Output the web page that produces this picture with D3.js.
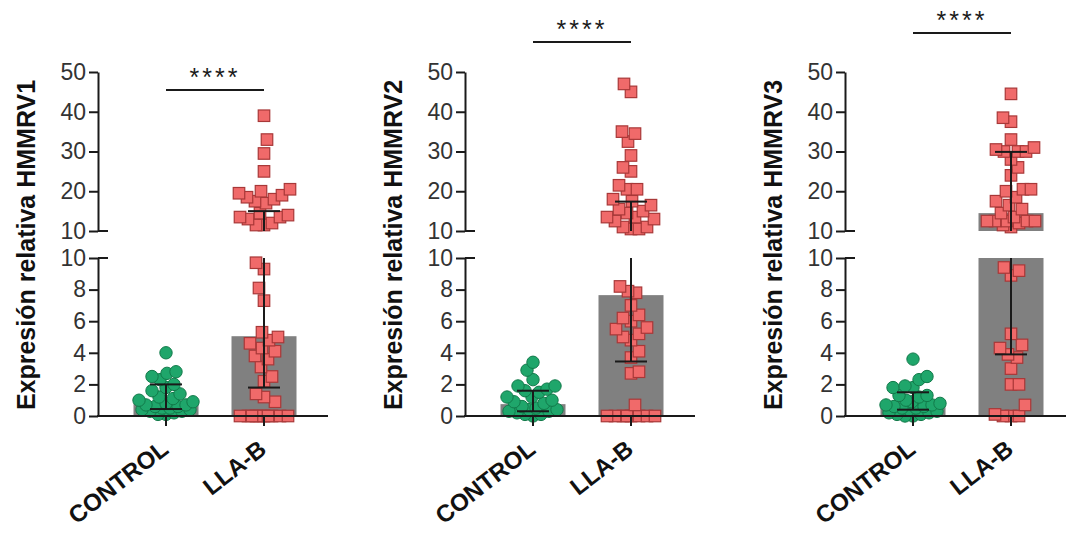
<!DOCTYPE html>
<html>
<head>
<meta charset="utf-8">
<script src="https://cdn.jsdelivr.net/npm/d3@7"></script>
<style>
body { margin: 0; background: #fff; }
svg { display: block; }
</style>
</head>
<body>
<div id="chart"></div>
<script>
// datos
var genes = ["HMMRV1", "HMMRV2", "HMMRV3"];
var categories = ["CONTROL", "LLA-B"];
var lowTicks = [0, 2, 4, 6, 8, 10];
var highTicks = [10, 20, 30, 40, 50];
var signif = ["****", "****", "****"];

var control1 = [4.0, 2.8, 2.7, 2.5, 2.3, 2.0, 1.8, 1.6, 1.4, 1.2, 1.1, 1.0, 0.9, 0.8, 0.7, 0.7, 0.6, 0.6, 0.5, 0.5, 0.4, 0.4, 0.3, 0.3, 0.2, 0.1, 0.1];
var llab1 = [39, 33, 29.5, 25, 20.5, 20, 19.5, 19, 18.5, 18, 17.5, 17, 14.5, 14, 13.5, 13.5, 13, 12, 11.5, 11.5,
             9.7, 9.3, 8.1, 7.3, 5.3, 5.0, 4.8, 4.6, 4.3, 4.1, 3.8, 3.6, 3.1, 2.5, 2.2, 1.4, 1.2, 0.9,
             0, 0, 0, 0, 0, 0, 0, 0, 0, 0];
var control2 = [3.4, 2.9, 2.3, 1.9, 1.9, 1.7, 1.6, 1.5, 1.2, 1.2, 1.0, 0.9, 0.8, 0.6, 0.5, 0.4, 0.4, 0.3, 0.3, 0.2, 0.1, 0.1, 0.0];
var llab2 = [47, 45, 35, 34.5, 32.5, 29, 26, 25, 21.5, 20.5, 20.5, 18, 17.5, 16.5, 15.5, 15, 14.5, 13.5, 13.5, 13, 12.5, 11, 11, 10.5, 10.5,
             8.2, 7.9, 7.8, 7.0, 6.4, 6.2, 6.0, 5.6, 5.5, 5.2, 5.0, 4.8, 4.1, 3.7, 2.8, 2.7, 0.7,
             0, 0, 0, 0, 0, 0, 0, 0];
var control3 = [3.6, 2.5, 2.3, 1.9, 1.8, 1.8, 1.3, 1.3, 1.2, 1.0, 0.9, 0.8, 0.7, 0.7, 0.6, 0.6, 0.5, 0.5, 0.4, 0.3, 0.2, 0.2, 0.1, 0.1, 0.0, 0.0];
var llab3 = [44.5, 38.5, 37.5, 33, 31, 30.5, 30, 30, 30, 28, 26, 24, 20.5, 20.5, 20, 18.5, 17.5, 16.5, 15.5, 14.5, 13.5, 12.5, 12.5, 12.5, 12.5, 12.5, 12, 11.5, 11,
             9.4, 9.2, 8.9, 5.2, 4.5, 4.3, 3.9, 3.7, 3.0, 2.0, 2.0, 0.7, 0.1, 0, 0, 0];

// mediana y rango intercuartil (control, LLA-B)
var medians = [[0.8, 5.05], [0.75, 7.65], [0.7, 14.5]];
var errLow = [[0.44, 1.8], [0.3, 3.45], [0.4, 3.9]];
var errHigh = [[2.0, 15.0], [1.6, 17.4], [1.5, 29.9]];

var groups = [[control1, llab1], [control2, llab2], [control3, llab3]];

// layout
var w = 1066, h = 535;
var yBase = 416, yLowTop = 258, yHighBottom = 231, yHighTop = 72;
var axisX = [98, 465, 845];
var sigY = [90, 42, 33];
var barW = 65, capW = 32;
var fontFam = "'Liberation Sans', Arial, sans-serif";

var svg = d3.select("#chart").append("svg")
    .attr("width", w)
    .attr("height", h);
svg.append("rect").attr("width", w).attr("height", h).attr("fill", "#fff");

// acomoda puntos (tipo beeswarm) dentro de un ancho maximo
function swarm(values, yPos, cx, sx, sy, maxOff) {
    var pts = values.map(function(v) { return {v: v, y: yPos(v)}; });
    pts.sort(function(a, b) { return b.y - a.y; });
    var placed = [];
    pts.forEach(function(pt, i) {
        var best = null, bestD = -1;
        for (var k = 0; k <= maxOff * 2; k++) {
            var sign = (k + i) % 2 ? 1 : -1;
            var px = cx + sign * Math.ceil(k / 2);
            var dmin = Infinity;
            placed.forEach(function(q) {
                var dx = (q.x - px) / sx, dy = (q.y - pt.y) / sy;
                dmin = Math.min(dmin, dx * dx + dy * dy);
            });
            if (dmin >= 1) { best = px; break; }
            if (dmin > bestD) { bestD = dmin; best = px; }
        }
        pt.x = best;
        placed.push(pt);
    });
    return placed;
}

genes.forEach(function(gene, p) {
    var ax = axisX[p];
    var g = svg.append("g");

    var x = d3.scalePoint().domain(categories).range([ax + 68, ax + 166]);
    var yLow = d3.scaleLinear().domain([0, 10]).range([yBase, yLowTop]);
    var yHigh = d3.scaleLinear().domain([10, 50]).range([yHighBottom, yHighTop]);
    var yPos = function(v) { return v > 10 ? yHigh(v) : yLow(v); };

    // barras (mediana), partidas en el corte
    categories.forEach(function(c, ci) {
        var m = medians[p][ci];
        g.append("rect")
            .attr("x", x(c) - barW / 2)
            .attr("y", yLow(Math.min(m, 10)))
            .attr("width", barW)
            .attr("height", yBase - yLow(Math.min(m, 10)))
            .attr("fill", "#808080");
        if (m > 10) {
            g.append("rect")
                .attr("x", x(c) - barW / 2)
                .attr("y", yHigh(m))
                .attr("width", barW)
                .attr("height", yHigh(10) - yHigh(m))
                .attr("fill", "#808080");
        }
    });

    // puntos
    var ctrl = swarm(groups[p][0], yPos, x(categories[0]), 7.5, 13, 27);
    g.selectAll("circle.pt").data(ctrl).enter().append("circle")
        .attr("class", "pt")
        .attr("cx", function(d) { return d.x; })
        .attr("cy", function(d) { return d.y; })
        .attr("r", 6.2)
        .attr("fill", "#1fa66b")
        .attr("stroke", "#127a4a")
        .attr("stroke-width", 1);

    var sq = 11.5;
    var llab = swarm(groups[p][1], yPos, x(categories[1]), 8, 15, 28);
    g.selectAll("rect.pt").data(llab).enter().append("rect")
        .attr("class", "pt")
        .attr("x", function(d) { return d.x - sq / 2; })
        .attr("y", function(d) { return d.y - sq / 2; })
        .attr("width", sq)
        .attr("height", sq)
        .attr("fill", "#f06a6a")
        .attr("stroke", "#a83838")
        .attr("stroke-width", 1.2);

    // barras de error (rango intercuartil)
    categories.forEach(function(c, ci) {
        var lo = errLow[p][ci], hi = errHigh[p][ci], cx = x(c);
        var segs = [];
        if (lo < 10) segs.push([yLow(lo), yLow(Math.min(hi, 10))]);
        if (hi > 10) segs.push([yHigh(Math.max(lo, 10)), yHigh(hi)]);
        segs.forEach(function(s) {
            g.append("line").attr("x1", cx).attr("x2", cx).attr("y1", s[0]).attr("y2", s[1])
                .attr("stroke", "#1a1a1a").attr("stroke-width", 2);
        });
        [lo, hi].forEach(function(v) {
            g.append("line")
                .attr("x1", cx - capW / 2).attr("x2", cx + capW / 2)
                .attr("y1", yPos(v)).attr("y2", yPos(v))
                .attr("stroke", "#1a1a1a").attr("stroke-width", 2);
        });
    });

    // ejes Y (dos tramos)
    var axLow = g.append("g").attr("transform", "translate(" + ax + ",0)")
        .call(d3.axisLeft(yLow).tickValues(lowTicks).tickSize(9).tickSizeOuter(0).tickPadding(3));
    var axHigh = g.append("g").attr("transform", "translate(" + ax + ",0)")
        .call(d3.axisLeft(yHigh).tickValues(highTicks).tickSize(9).tickSizeOuter(0).tickPadding(3));
    [axLow, axHigh].forEach(function(a) {
        a.selectAll("path, line").attr("stroke", "#1a1a1a").attr("stroke-width", 2);
        a.selectAll("text").attr("font-family", fontFam).attr("font-size", "23px").attr("fill", "#333");
    });
    // marcas del corte hacia la derecha
    [yLow(10), yHigh(10)].forEach(function(yy) {
        g.append("line").attr("x1", ax).attr("x2", ax + 10).attr("y1", yy).attr("y2", yy)
            .attr("stroke", "#1a1a1a").attr("stroke-width", 2);
    });

    // eje X
    g.append("line").attr("x1", ax - 1).attr("x2", ax + 230).attr("y1", yBase).attr("y2", yBase)
        .attr("stroke", "#1a1a1a").attr("stroke-width", 2);
    g.selectAll("line.xt").data(categories).enter().append("line")
        .attr("class", "xt")
        .attr("x1", function(d) { return x(d); }).attr("x2", function(d) { return x(d); })
        .attr("y1", yBase).attr("y2", yBase + 10)
        .attr("stroke", "#1a1a1a").attr("stroke-width", 2);
    g.selectAll("text.cat").data(categories).enter().append("text")
        .attr("class", "cat")
        .attr("transform", function(d) { return "translate(" + (x(d) + 4) + "," + 452 + ") rotate(-38)"; })
        .attr("text-anchor", "end")
        .attr("font-family", fontFam)
        .attr("font-weight", "bold")
        .attr("font-size", "24px")
        .attr("fill", "#111")
        .text(function(d) { return d; });

    // titulo eje Y
    g.append("text")
        .attr("transform", "translate(" + (ax - 72) + "," + 245 + ") rotate(-90)")
        .attr("text-anchor", "middle")
        .attr("dy", "0.35em")
        .attr("font-family", fontFam)
        .attr("font-weight", "bold")
        .attr("font-size", "25px")
        .attr("fill", "#111")
        .text("Expresión relativa " + gene);

    // significancia
    g.append("line")
        .attr("x1", x(categories[0])).attr("x2", x(categories[1]))
        .attr("y1", sigY[p]).attr("y2", sigY[p])
        .attr("stroke", "#1a1a1a").attr("stroke-width", 2);
    g.append("text")
        .attr("x", (x(categories[0]) + x(categories[1])) / 2)
        .attr("y", sigY[p] - 4)
        .attr("text-anchor", "middle")
        .attr("font-family", fontFam)
        .attr("font-size", "25px")
        .attr("letter-spacing", "3px")
        .attr("fill", "#1a1a1a")
        .text(signif[p]);
});
</script>
</body>
</html>
